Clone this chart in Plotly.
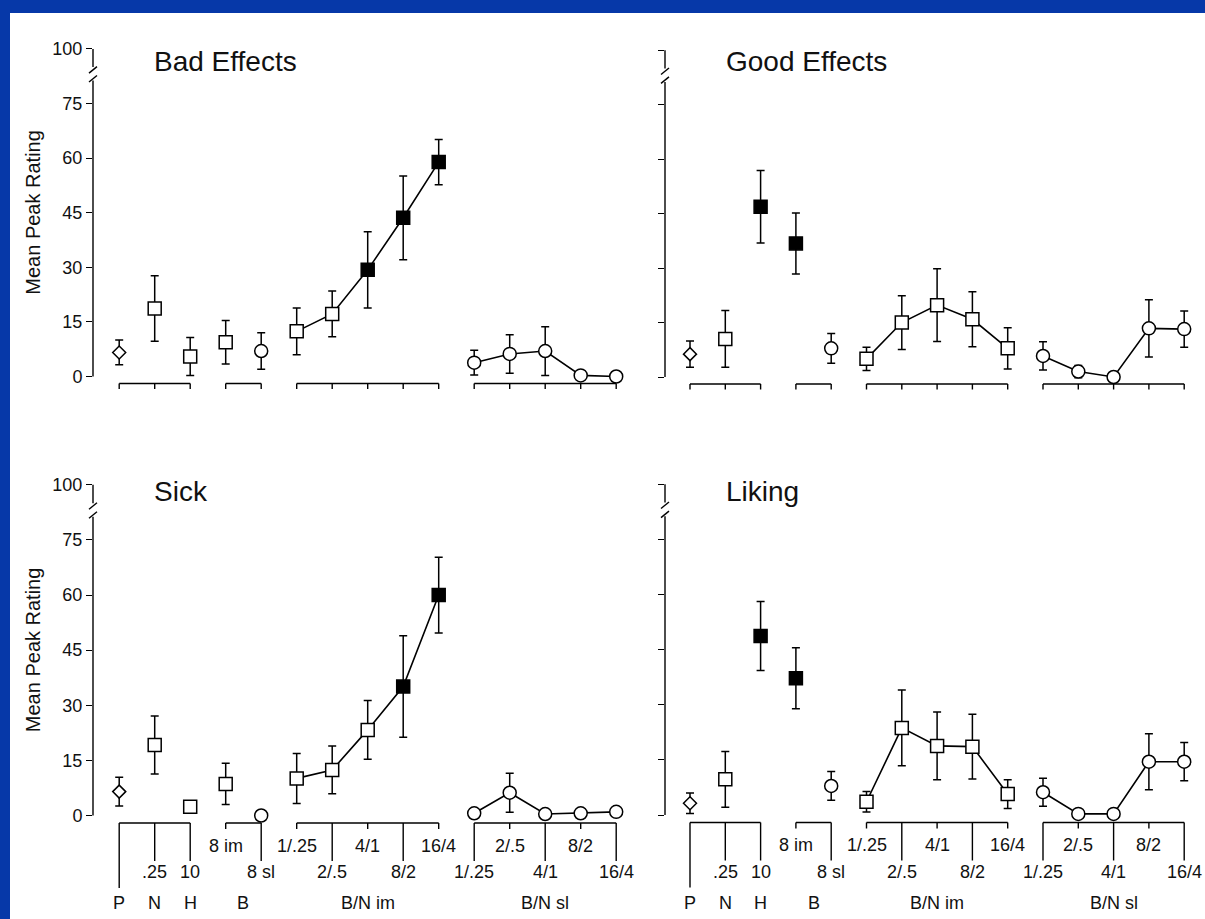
import plotly.graph_objects as go

W, H = 1205, 919

# ---------------- data ----------------
groups = ["P", "N", "H", "B", "B/N im", "B/N sl"]
group_pos = [0, 1, 2, 3.5, 7, 12]
dose_labels = ["", ".25", "10", "8 im", "8 sl",
               "1/.25", "2/.5", "4/1", "8/2", "16/4",
               "1/.25", "2/.5", "4/1", "8/2", "16/4"]
x_index = list(range(15))

bad_mean = [6.6, 18.7, 5.5, 9.4, 7.0, 12.4, 17.2, 29.3, 43.6, 58.9, 3.8, 6.2, 7.0, 0.3, 0.0]
bad_err = [3.4, 9.0, 5.2, 6.0, 5.0, 6.4, 6.3, 10.5, 11.5, 6.2, 3.4, 5.3, 6.7, 0, 0]
bad_filled = [7, 8, 9]

good_mean = [6.3, 10.5, 46.9, 36.8, 7.9, 5.0, 15.0, 19.8, 15.9, 7.9, 5.8, 1.5, 0.0, 13.4, 13.2]
good_err = [3.6, 7.8, 10.0, 8.4, 4.1, 3.2, 7.4, 10.0, 7.6, 5.7, 3.9, 1.7, 0, 7.9, 5.0]
good_filled = [2, 3]

sick_mean = [6.5, 19.2, 2.4, 8.6, 0.0, 10.1, 12.4, 23.3, 35.1, 60.0, 0.6, 6.2, 0.4, 0.6, 1.0]
sick_err = [3.9, 7.9, 0, 5.6, 0, 6.8, 6.5, 8.0, 13.8, 10.3, 0, 5.3, 0, 0, 0]
sick_filled = [8, 9]

liking_mean = [3.2, 9.7, 48.7, 37.2, 7.9, 3.6, 23.7, 18.8, 18.6, 5.7, 6.2, 0.3, 0.3, 14.5, 14.5]
liking_err = [2.8, 7.6, 9.4, 8.3, 3.9, 2.8, 10.3, 9.2, 8.8, 3.9, 3.8, 0, 0, 7.6, 5.2]
liking_filled = [2, 3]

y_tickvals = [0, 15, 30, 45, 60, 75, 90]
y_ticktext = ["0", "15", "30", "45", "60", "75", "100"]

# ---------------- styling / layout ----------------
ink = "#000000"
blue = "rgb(6,56,168)"
FONT = "Liberation Sans, Arial, sans-serif"

symbols = ["diamond", "square", "square", "square", "circle"] + ["square"] * 5 + ["circle"] * 5
sizes = [10 if s == "diamond" else 13 for s in symbols]
bracket_groups = [(0, 2), (3, 4), (5, 9), (10, 14)]
upper_row = {3, 5, 7, 9, 11, 13}

panels = [
    dict(title="Bad Effects", mean=bad_mean, err=bad_err, filled=bad_filled, n="",
         ax=93, x0=119.2, dx=35.5, y0=376.5, dy=3.64, top=40, bot=400, right=640,
         bottom=False, left=True),
    dict(title="Good Effects", mean=good_mean, err=good_err, filled=good_filled, n="2",
         ax=665, x0=690, dx=35.3, y0=377, dy=3.63, top=40, bot=400, right=1205,
         bottom=False, left=False),
    dict(title="Sick", mean=sick_mean, err=sick_err, filled=sick_filled, n="3",
         ax=93, x0=119.2, dx=35.5, y0=815.5, dy=3.674, top=470, bot=919, right=640,
         bottom=True, left=True),
    dict(title="Liking", mean=liking_mean, err=liking_err, filled=liking_filled, n="4",
         ax=665, x0=690, dx=35.3, y0=815, dy=3.676, top=470, bot=919, right=1205,
         bottom=True, left=False),
]

fig = go.Figure()
shapes = []
annotations = []


def fx(px):
    return px / W


def fy(py):
    return 1 - py / H


def line(x0, y0, x1, y1, w=1.4):
    shapes.append(dict(type="line", xref="paper", yref="paper",
                       x0=fx(x0), y0=fy(y0), x1=fx(x1), y1=fy(y1),
                       line=dict(color=ink, width=w)))


# white page
shapes.append(dict(type="rect", xref="paper", yref="paper", x0=10 / W, y0=0, x1=1, y1=1 - 13 / H,
                   fillcolor="white", line=dict(width=0), layer="below"))

layout_axes = {}
for p in panels:
    xa = "x" + p["n"]
    ya = "y" + p["n"]
    xr = [(p["ax"] - p["x0"]) / p["dx"], (p["right"] - p["x0"]) / p["dx"]]
    yr = [(p["y0"] - p["bot"]) / p["dy"], (p["y0"] - p["top"]) / p["dy"]]
    layout_axes["xaxis" + p["n"]] = dict(domain=[p["ax"] / W, p["right"] / W], range=xr,
                                         visible=False, anchor=ya, fixedrange=True)
    layout_axes["yaxis" + p["n"]] = dict(domain=[1 - p["bot"] / H, 1 - p["top"] / H], range=yr,
                                         anchor=xa, showgrid=False, zeroline=False, showline=False,
                                         ticks="outside", ticklen=6, tickwidth=1.4, tickcolor=ink,
                                         tickvals=y_tickvals, ticktext=y_ticktext,
                                         showticklabels=p["left"], fixedrange=True,
                                         tickfont=dict(family=FONT, size=18, color="#111"))

    mean, err, filled = p["mean"], p["err"], p["filled"]
    # error bars (drawn first so markers sit on top)
    fig.add_trace(go.Scatter(
        x=x_index, y=mean, mode="markers", xaxis=xa, yaxis=ya, showlegend=False,
        marker=dict(size=1, color="rgba(0,0,0,0)"), hoverinfo="skip",
        error_y=dict(type="data", array=err, symmetric=True, color=ink, thickness=1.5, width=4),
    ))
    # connecting lines for the combination series
    for a, b in [(5, 9), (10, 14)]:
        fig.add_trace(go.Scatter(x=x_index[a:b + 1], y=mean[a:b + 1], mode="lines",
                                 line=dict(color=ink, width=1.6), xaxis=xa, yaxis=ya,
                                 showlegend=False, hoverinfo="skip"))
    colors = [ink if i in filled else "white" for i in x_index]
    fig.add_trace(go.Scatter(
        x=x_index, y=mean, mode="markers", xaxis=xa, yaxis=ya, showlegend=False,
        marker=dict(symbol=symbols, size=sizes, color=colors, opacity=1,
                    line=dict(color=ink, width=1.5)),
    ))

    def px_of(i):
        return p["x0"] + i * p["dx"]

    def py_of(v):
        return p["y0"] - v * p["dy"]

    # y axis line with break
    ax = p["ax"]
    line(ax, py_of(0), ax, py_of(81.3))
    line(ax, py_of(85), ax, py_of(90))
    line(ax - 4, py_of(81.3) + 1.5, ax + 4, py_of(81.3) - 5)
    line(ax - 4, py_of(85) + 6, ax + 4, py_of(85) - 0.5)

    # brackets beneath the points
    if not p["bottom"]:
        by = p["y0"] + 7
        for a, b in bracket_groups:
            line(px_of(a), by, px_of(b), by)
            for i in range(a, b + 1):
                line(px_of(i), by, px_of(i), by + 5.5)
    else:
        by = p["y0"] + 7.5
        for a, b in bracket_groups:
            line(px_of(a), by, px_of(b), by)
            for i in range(a, b + 1):
                if i == 0:
                    d = 65
                elif i in upper_row:
                    d = 6
                else:
                    d = 38
                line(px_of(i), by, px_of(i), by + d)
        for i in x_index:
            if not dose_labels[i]:
                continue
            ly = p["y0"] + 30 if i in upper_row else p["y0"] + 56.5
            annotations.append(dict(x=i, xref=xa, y=fy(ly), yref="paper", text=dose_labels[i],
                                    showarrow=False, xanchor="center", yanchor="middle",
                                    font=dict(family=FONT, size=18, color="#111")))
        for g, gp in zip(groups, group_pos):
            annotations.append(dict(x=gp, xref=xa, y=fy(p["y0"] + 87.5), yref="paper", text=g,
                                    showarrow=False, xanchor="center", yanchor="middle",
                                    font=dict(family=FONT, size=18, color="#111")))

    # panel title
    annotations.append(dict(x=fx(ax + 59), y=fy(p["top"] + 21), xref="paper", yref="paper",
                            text=p["title"], showarrow=False, xanchor="left", yanchor="middle",
                            font=dict(family=FONT, size=28, color="#111")))
    if p["left"]:
        annotations.append(dict(x=fx(33), y=fy(py_of(45)), xref="paper", yref="paper",
                                text="Mean Peak Rating", textangle=-90, showarrow=False,
                                xanchor="center", yanchor="middle",
                                font=dict(family=FONT, size=20, color="#111")))

fig.update_layout(
    width=W, height=H, autosize=False,
    margin=dict(l=0, r=0, t=0, b=0),
    paper_bgcolor=blue, plot_bgcolor="rgba(0,0,0,0)",
    shapes=shapes, annotations=annotations, showlegend=False,
    **layout_axes,
)

fig.write_html(
    "out.html",
    config={"displayModeBar": False},
    post_script="document.body.style.margin='0';document.body.style.overflow='hidden';",
)
